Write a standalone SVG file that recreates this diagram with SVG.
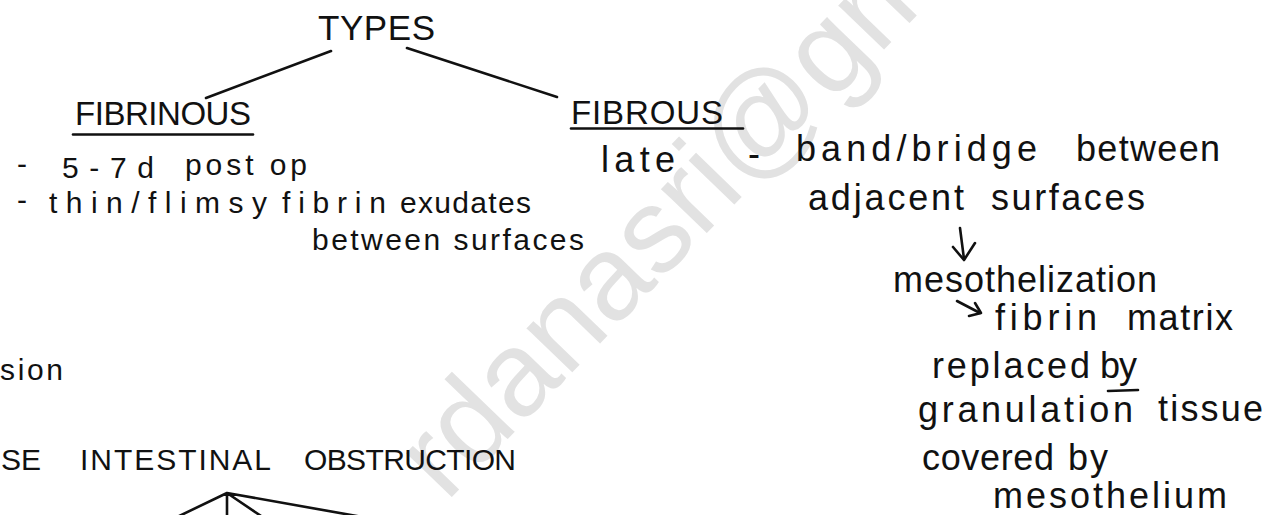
<svg xmlns="http://www.w3.org/2000/svg" width="1279" height="515" viewBox="0 0 1279 515">
  <style>
    text { font-family: "Liberation Sans", Arial, sans-serif; fill: #111; }
    .title { font-size: 35px; }
    .cap { font-size: 33px; }
    .caps { font-size: 30px; }
    .body { font-size: 30px; }
    .side { font-size: 36px; }
    .ink { stroke: #111; stroke-width: 2.6; fill: none; stroke-linecap: round; stroke-linejoin: round; }
    .mark { font-size: 120px; fill: #e2e2e2; }
  </style>
  <rect width="1279" height="515" fill="#ffffff"/>

  <!-- faint diagonal stamp behind the notes -->
  <text class="mark" transform="translate(446 503) rotate(-46)">rdanasri@gm</text>

  <!-- tree and arrow strokes -->
  <g id="connectors" class="ink">
    <line x1="331" y1="51" x2="206" y2="98"/>
    <line x1="407" y1="48" x2="557" y2="97"/>
    <path d="M960 228 Q962 244 964 259"/>
    <path d="M953 247 L964 260 L975 243"/>
    <path d="M957 301 L980 313"/>
    <path d="M969 316 L981 313 L975 303"/>
    <path d="M175 518 L227 493 L227 518 M227 493 L264 518 M227 493 L368 518"/>
  </g>

  <g id="types">
    <text class="title" x="318" y="40" textLength="117" lengthAdjust="spacing">TYPES</text>
  </g>

  <g id="fibrinous">
    <text class="cap" x="75" y="125" textLength="176" lengthAdjust="spacing">FIBRINOUS</text>
    <line class="ink" x1="73" y1="134.5" x2="253" y2="134.5"/>
    <text class="body" x="17" y="174">-</text>
    <text class="body" x="62" y="178" textLength="92" lengthAdjust="spacing">5-7d</text>
    <text class="body" x="185" y="175" textLength="122" lengthAdjust="spacing">post op</text>
    <text class="body" x="17" y="210">-</text>
    <text class="body" x="49" y="213" textLength="218" lengthAdjust="spacing">thin/flimsy</text>
    <text class="body" x="282" y="213" textLength="104" lengthAdjust="spacing">fibrin</text>
    <text class="body" x="400" y="213" textLength="131" lengthAdjust="spacing">exudates</text>
    <text class="body" x="312" y="250" textLength="272" lengthAdjust="spacing">between surfaces</text>
  </g>

  <g id="fibrous">
    <text class="cap" x="571" y="124" textLength="152" lengthAdjust="spacing">FIBROUS</text>
    <line class="ink" x1="571" y1="128.5" x2="743" y2="128.5"/>
    <text class="side" x="601" y="172" textLength="74" lengthAdjust="spacing">late</text>
  </g>

  <g id="band">
    <text class="side" x="748" y="166">-</text>
    <text class="side" x="796" y="161" textLength="241" lengthAdjust="spacing">band/bridge</text>
    <text class="side" x="1076" y="161" textLength="144" lengthAdjust="spacing">between</text>
    <text class="side" x="808" y="210" textLength="156" lengthAdjust="spacing">adjacent</text>
    <text class="side" x="991" y="210" textLength="154" lengthAdjust="spacing">surfaces</text>
  </g>

  <g id="mesothelization">
    <text class="side" x="893" y="292" textLength="264" lengthAdjust="spacing">mesothelization</text>
  </g>

  <g id="fibrin-matrix">
    <text class="side" x="995" y="330" textLength="102" lengthAdjust="spacing">fibrin</text>
    <text class="side" x="1127" y="330" textLength="106" lengthAdjust="spacing">matrix</text>
  </g>

  <g id="replaced">
    <text class="side" x="932" y="378" textLength="158" lengthAdjust="spacing">replaced</text>
    <text class="side" x="1100" y="378" textLength="37" lengthAdjust="spacing">by</text>
    <line class="ink" x1="1108" y1="391" x2="1138" y2="390"/>
    <text class="side" x="918" y="422" textLength="215" lengthAdjust="spacing">granulation</text>
    <text class="side" x="1158" y="421" textLength="105" lengthAdjust="spacing">tissue</text>
  </g>

  <g id="covered">
    <text class="side" x="922" y="470" textLength="132" lengthAdjust="spacing">covered</text>
    <text class="side" x="1068" y="470" textLength="40" lengthAdjust="spacing">by</text>
    <text class="side" x="993" y="508" textLength="234" lengthAdjust="spacing">mesothelium</text>
  </g>

  <g id="sion">
    <text class="body" x="0" y="380" textLength="63" lengthAdjust="spacing">sion</text>
  </g>

  <g id="obstruction">
    <text class="caps" x="1" y="470" textLength="40" lengthAdjust="spacing">SE</text>
    <text class="caps" x="80" y="470" textLength="191" lengthAdjust="spacing">INTESTINAL</text>
    <text class="caps" x="304" y="470" textLength="212" lengthAdjust="spacing">OBSTRUCTION</text>
  </g>
</svg>
